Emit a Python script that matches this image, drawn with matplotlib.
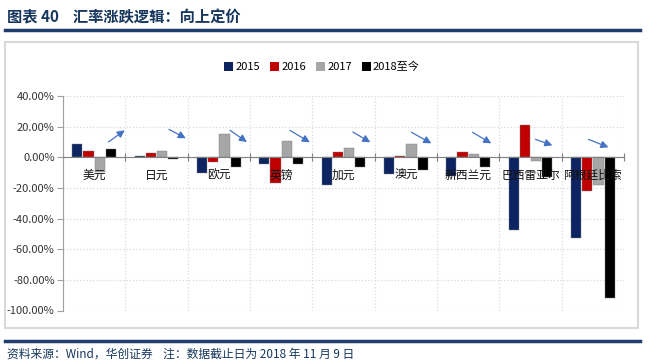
import matplotlib
matplotlib.use("Agg")
import matplotlib.pyplot as plt
from matplotlib.patches import Rectangle, Patch
from matplotlib.lines import Line2D
import numpy as np

plt.rcParams['font.family'] = ['Noto Sans CJK SC', 'DejaVu Sans']
plt.rcParams['axes.unicode_minus'] = False

categories = ['美元', '日元', '欧元', '英镑', '加元', '澳元', '新西兰元', '巴西雷亚尔', '阿根廷比索']
series_names = ['2015', '2016', '2017', '2018至今']
v2015 = [8.7, 0.8, -10.0, -4.1, -18.4, -10.8, -12.0, -47.3, -53.0]
v2016 = [4.1, 3.1, -3.1, -17.0, 3.5, 0.6, 3.3, 20.8, -22.0]
v2017 = [-9.8, 4.4, 15.4, 10.6, 6.3, 8.5, 2.1, -2.4, -18.3]
v2018 = [5.4, -1.3, -6.1, -4.4, -6.3, -8.5, -6.1, -13.0, -92.0]
y_ticks = [40, 20, 0, -20, -40, -60, -80, -100]
# arrow annotations: (start offset, start y, end offset, end y) within each category
arrows = [(0.73, 10.0, 0.99, 17.6), (0.70, 18.2, 0.97, 12.4), (0.68, 17.6, 0.95, 10.0),
          (0.64, 17.6, 0.96, 9.8), (0.65, 16.5, 0.93, 9.8), (0.59, 16.3, 0.91, 9.1),
          (0.57, 16.3, 0.87, 9.1), (0.58, 11.7, 0.85, 7.8), (0.43, 11.7, 0.75, 6.5)]

colors = ['#0c2461', '#c00000', '#a6a6a6', '#000000']
title_color = '#17365d'

W, H = 659, 364
fig = plt.figure(figsize=(W / 100, H / 100), dpi=100)

# title and lines
fig.text(7 / W, 1 - 17 / H, '图表 40    汇率涨跌逻辑：向上定价', fontsize=11, fontweight='bold',
         color=title_color, va='center', ha='left')
fig.add_artist(Line2D([5 / W, 640 / W], [1 - 30 / H, 1 - 30 / H], color='#1f3d6e', lw=2.5))
fig.add_artist(Line2D([5 / W, 640 / W], [1 - 341 / H, 1 - 341 / H], color='#1f3d6e', lw=2.5))
fig.text(7 / W, 1 - 354 / H, '资料来源：Wind，华创证券    注：数据截止日为 2018 年 11 月 9 日', fontsize=8.5,
         color=title_color, va='center', ha='left', style='italic')
# frame
fig.add_artist(Rectangle((5 / W, 1 - 328 / H), 633 / W, 286 / H, transform=fig.transFigure,
                         fill=False, edgecolor='#d9d9d9', lw=1.5))

ax = fig.add_axes([63 / W, 1 - 310.5 / H, (624 - 63) / W, (310.5 - 96) / H])
n = len(categories)
x = np.arange(n) + 0.5
bw = 0.165
step = 0.18
allv = [v2015, v2016, v2017, v2018]
for k, (vals, c) in enumerate(zip(allv, colors)):
    ax.bar(x + (k - 1.5) * step, vals, width=bw, color=c, zorder=3, edgecolor='#7f7f7f', linewidth=0.3)

ax.set_xlim(0, n)
ax.set_ylim(-100, 40)
ax.set_yticks(y_ticks)
ax.set_yticklabels([f'{t:.2f}%' for t in y_ticks], fontsize=8, color='#333333')
ax.set_xticks(np.arange(n + 1))
ax.set_xticklabels([])
ax.spines['top'].set_visible(False)
ax.spines['right'].set_visible(False)
ax.spines['bottom'].set_position(('data', 0))
ax.spines['bottom'].set_color('#808080')
ax.spines['left'].set_color('#a0a0a0')
ax.spines['bottom'].set_zorder(4)
ax.tick_params(axis='x', direction='inout', length=6, color='#808080')
ax.tick_params(axis='y', direction='out', length=4, color='#a0a0a0', pad=2)
ax.grid(True, color='#d9d9d9', linestyle=':', linewidth=0.9, zorder=0)
ax.set_axisbelow(True)

for i, c in enumerate(categories):
    ax.annotate(c, (x[i], 0), xytext=(0, -13), textcoords='offset points', ha='center', va='center',
                fontsize=8.5, color='#111111', zorder=6)

for i, (s0, y0, s1, y1) in enumerate(arrows):
    ax.annotate('', xy=(i + s1, y1), xytext=(i + s0, y0),
                arrowprops=dict(arrowstyle='-|>', color='#4472c4', lw=0.9, mutation_scale=11,
                                shrinkA=0, shrinkB=0), zorder=5)

handles = [Patch(facecolor=c, edgecolor='none') for c in colors]
fig.legend(handles, series_names, loc='center', bbox_to_anchor=(322 / W, 1 - 67 / H), ncol=4,
           frameon=False, fontsize=8, handlelength=0.8, handleheight=0.8, handletextpad=0.2,
           columnspacing=0.9)

fig.savefig('out.png', dpi=100)
